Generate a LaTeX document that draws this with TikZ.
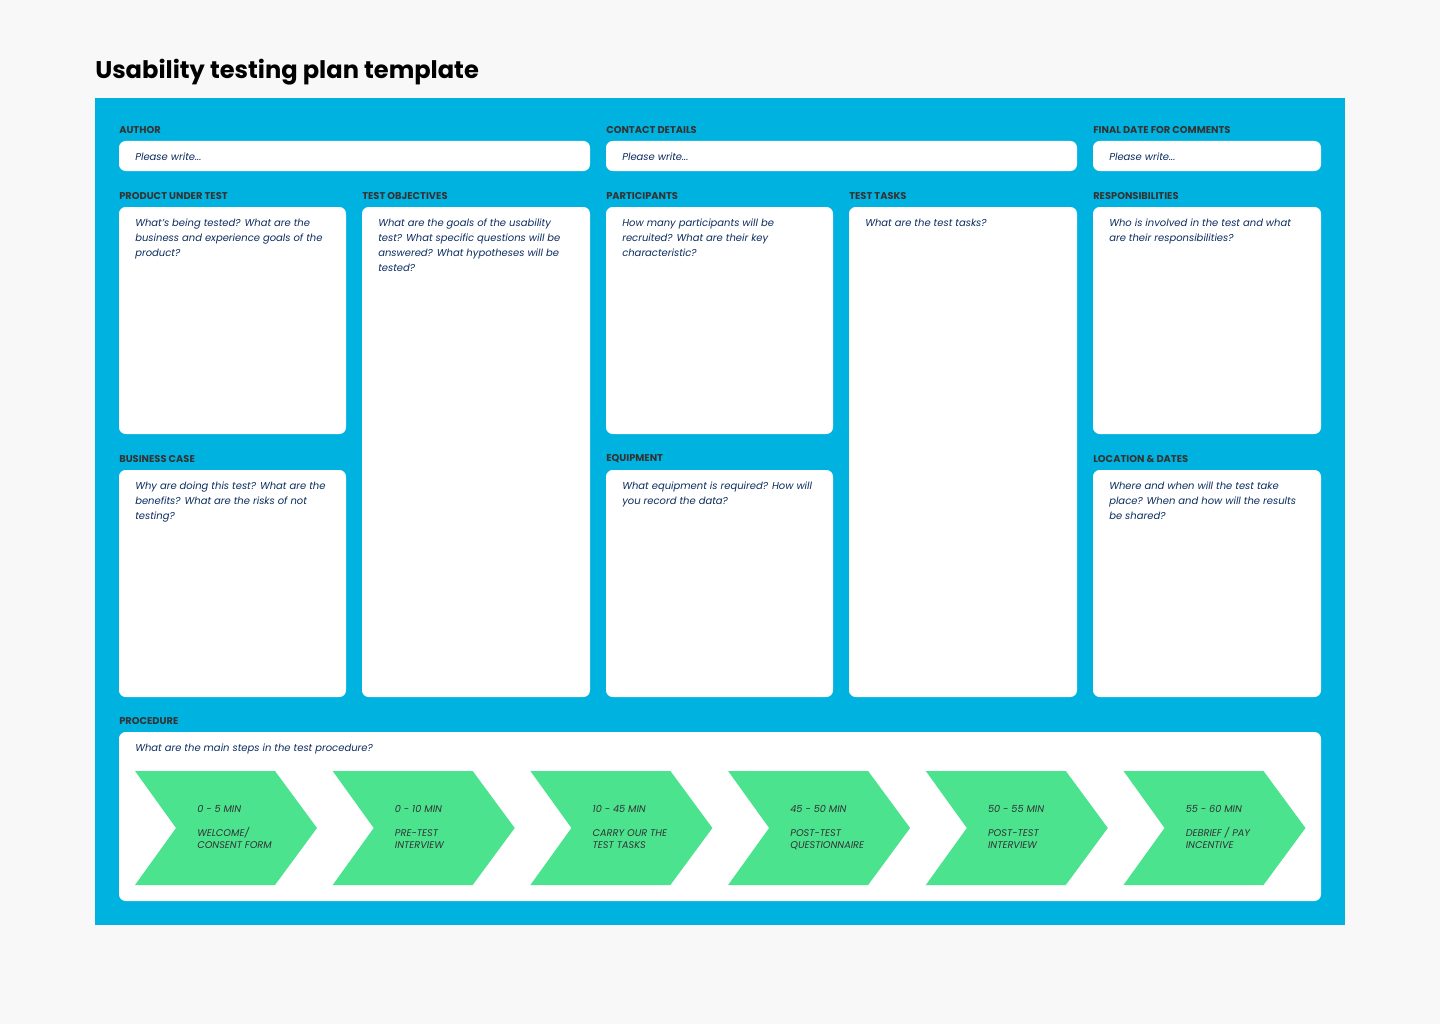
\documentclass[tikz,border=0pt]{standalone}
\usepackage{fontspec}
\setmainfont{Poppins}
\usetikzlibrary{positioning}
\definecolor{planbg}{HTML}{F8F8F8}
\definecolor{planblue}{HTML}{00B2E0}
\definecolor{plangreen}{HTML}{4CE38F}
\definecolor{plannavy}{HTML}{0B2C5E}
\definecolor{plangray}{HTML}{333333}
\tikzset{
  card/.style={fill=white, rounded corners=5pt, draw=none},
  head/.style={anchor=west, inner sep=0pt, text=plangray, font=\fontsize{7.4}{9}\selectfont\bfseries},
  hint/.style={anchor=north west, inner sep=0pt, text=plannavy, align=left, font=\fontsize{7.5}{11.25}\selectfont\itshape},
  chevron/.style={fill=plangreen},
  chevtext/.style={anchor=base west, inner sep=0pt, text=plangray, align=left, font=\fontsize{7.3}{9}\selectfont\itshape}
}
% card: name, x1, y1, x2, y2, heading, hint
\newcommand{\plancard}[7]{%
  \fill[card] (#2,#3) rectangle (#4,#5);
  \node[head] (#1-head) at (#2,#3-11) {#6};
  \node[hint] (#1-hint) at (#2+16,#3+12) {#7};
}
\newcommand{\planfield}[5]{%
  \fill[card] (#2,#3) rectangle (#4,#3+30);
  \node[head] (#1-head) at (#2,#3-11) {#5};
  \node[anchor=west, inner sep=0pt, text=plannavy, font=\fontsize{7.5}{9}\selectfont\itshape] (#1-hint) at (#2+16,#3+16) {Please write...};
}
\begin{document}
\begin{tikzpicture}[x=0.75pt, y=-0.75pt]
  \fill[planbg] (0,0) rectangle (1440,1024);
  \node[anchor=west, inner sep=0pt, font=\fontsize{18.1}{22}\selectfont\bfseries] (title) at (95,72) {Usability testing plan template};
  \fill[planblue] (95,98) rectangle (1345,925);

  % top fields
  \planfield{author}{119}{141}{590}{AUTHOR}
  \planfield{contact}{606}{141}{1077}{CONTACT DETAILS}
  \planfield{finaldate}{1093}{141}{1321}{FINAL DATE FOR COMMENTS}

  % cards
  \plancard{product}{119}{207}{346}{434}{PRODUCT UNDER TEST}{What's being tested? What are the\\business and experience goals of the\\product?}
  \plancard{objectives}{362}{207}{590}{697}{TEST OBJECTIVES}{What are the goals of the usability\\test? What specific questions will be\\answered? What hypotheses will be\\tested?}
  \plancard{participants}{606}{207}{833}{434}{PARTICIPANTS}{How many participants will be\\recruited? What are their key\\characteristic?}
  \plancard{tasks}{849}{207}{1077}{697}{TEST TASKS}{What are the test tasks?}
  \plancard{responsibilities}{1093}{207}{1321}{434}{RESPONSIBILITIES}{Who is involved in the test and what\\are their responsibilities?}
  \plancard{business}{119}{470}{346}{697}{BUSINESS CASE}{Why are doing this test? What are the\\benefits? What are the risks of not\\testing?}
  \plancard{equipment}{606}{470}{833}{697}{EQUIPMENT}{What equipment is required? How will\\you record the data?}
  \plancard{location}{1093}{470}{1321}{697}{LOCATION \& DATES}{Where and when will the test take\\place? When and how will the results\\be shared?}
  \plancard{procedure}{119}{732}{1321}{901}{PROCEDURE}{What are the main steps in the test procedure?}

  % procedure steps
  \foreach \t/\n [count=\i from 0] in {0 - 5 MIN/{WELCOME/\\CONSENT FORM},
      0 - 10 MIN/{PRE-TEST\\INTERVIEW},
      10 - 45 MIN/{CARRY OUR THE\\TEST TASKS},
      45 - 50 MIN/{POST-TEST\\QUESTIONNAIRE},
      50 - 55 MIN/{POST-TEST\\INTERVIEW},
      55 - 60 MIN/{DEBRIEF / PAY\\INCENTIVE}}{
    \pgfmathsetmacro{\sx}{135+197.7*\i}
    \fill[chevron] (\sx,771) -- (\sx+140,771) -- (\sx+182,828) -- (\sx+140,885) -- (\sx,885) -- (\sx+41,828) -- cycle;
    \node[chevtext] (step\i-time) at (\sx+62,812) {\t};
    \node[chevtext] (step\i-name) at (\sx+62,848.5) {\n};
  }
\end{tikzpicture}
\end{document}
